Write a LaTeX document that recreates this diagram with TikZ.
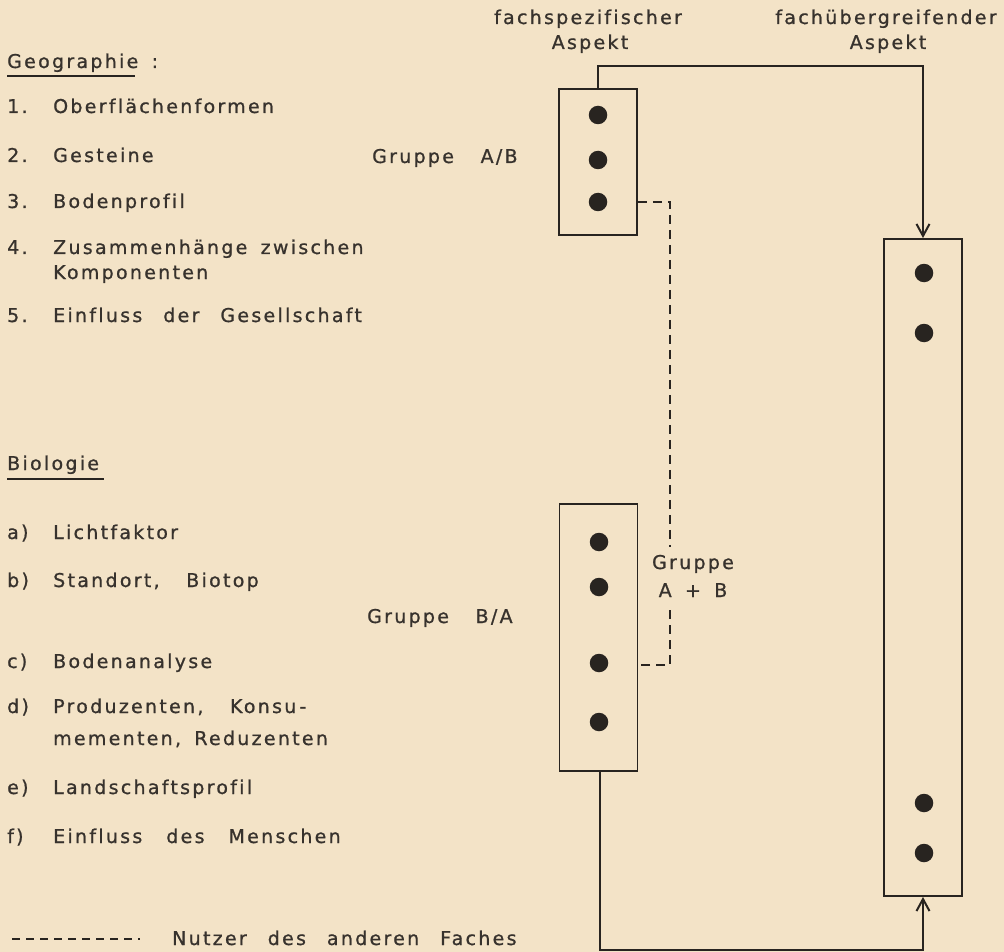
\documentclass[tikz,border=0pt]{standalone}
\usepackage{fontspec}
\usetikzlibrary{arrows.meta}
\newfontfamily\lett[LetterSpace=12,WordSpace=1.6,Ligatures=NoCommon,FakeBold=0.9]{DejaVu Sans}
\definecolor{paper}{RGB}{243,227,199}
\definecolor{ink}{RGB}{40,36,32}
\definecolor{txt}{RGB}{55,50,45}
\newcommand{\wsp}{\hspace{21pt}}
\tikzset{
  every node/.style={font=\lett\fontsize{19}{22}\selectfont, text=txt, inner sep=0pt},
  lbl/.style={anchor=base west},
  aspect/.style={rectangle, draw=ink, line width=1.9pt, minimum width=78pt, inner sep=0pt},
  dotmark/.style={circle, fill=ink, minimum size=18.5pt, inner sep=0pt},
  conn/.style={draw=ink, line width=1.9pt},
  dashconn/.style={draw=ink, line width=1.9pt, dash pattern=on 9pt off 6pt},
  tip/.style={-{Straight Barb[length=12pt,width=13pt,line width=2pt]}}
}
\begin{document}
\begin{tikzpicture}[x=1pt,y=-1pt]
\fill[paper] (0,0) rectangle (1004,952);
\useasboundingbox (0,0) rectangle (1004,952);

% headings
\node[anchor=base] (h1) at (588,24) {fachspezifischer};
\node[anchor=base] (h1b) at (590,49) {Aspekt};
\node[anchor=base] (h2) at (886,24) {fachübergreifender};
\node[anchor=base] (h2b) at (888,49) {Aspekt};

% Geographie list
\node[lbl] (geo) at (7,68) {Geographie :};
\draw[conn, line width=1.5pt] (7,76) -- (135,76);
\node[lbl] (n1) at (7,113) {1.};   \node[lbl] (g1) at (53,113) {Oberflächenformen};
\node[lbl] (n2) at (7,162) {2.};   \node[lbl] (g2) at (53,162) {Gesteine};
\node[lbl] (n3) at (7,208) {3.};   \node[lbl] (g3) at (53,208) {Bodenprofil};
\node[lbl] (n4) at (7,254) {4.};   \node[lbl] (g4) at (53,254) {Zusammenhänge zwischen};
\node[lbl] (g4b) at (53,279) {Komponenten};
\node[lbl] (n5) at (7,322) {5.};   \node[lbl] (g5) at (53,322) {Einfluss\wsp der\wsp Gesellschaft};

\node[lbl] (gab) at (372,163) {Gruppe \ A/B};

% Biologie list
\node[lbl] (bio) at (7,470) {Biologie};
\draw[conn, line width=1.5pt] (7,479) -- (104,479);
\node[lbl] (la) at (7,539) {a)};  \node[lbl] (ba) at (53,539) {Lichtfaktor};
\node[lbl] (lb) at (7,587) {b)};  \node[lbl] (bb) at (53,587) {Standort, \ Biotop};
\node[lbl] (gba) at (367,623) {Gruppe \ B/A};
\node[lbl] (lc) at (7,668) {c)};  \node[lbl] (bc) at (53,668) {Bodenanalyse};
\node[lbl] (ld) at (7,713) {d)};  \node[lbl] (bd) at (53,713) {Produzenten, \ Konsu\,-};
\node[lbl] (bdb) at (53,745) {mementen, Reduzenten};
\node[lbl] (le) at (7,794) {e)};  \node[lbl] (be) at (53,794) {Landschaftsprofil};
\node[lbl] (lf) at (7,843) {f)};  \node[lbl] (bf) at (53,843) {Einfluss\hspace{24pt}des\hspace{24pt}Menschen};

% legend
\coordinate (lg1) at (12,939);
\coordinate (lg2) at (140,939);
\draw[draw=ink, line width=1.5pt, dash pattern=on 8pt off 6pt] (lg1) -- (lg2);
\node[lbl] (lgt) at (172,945) {Nutzer\wsp des\wsp anderen\wsp Faches};

% boxes
\node[aspect, minimum height=146pt] (AB) at (598,162) {};
\node[aspect, minimum height=267pt] (BA) at (598.5,637.5) {};
\node[aspect, minimum height=657pt] (R) at (923,567.5) {};

% dots
\node[dotmark] (ab1) at (598,115) {};
\node[dotmark] (ab2) at (598,160) {};
\node[dotmark] (ab3) at (598,202) {};
\node[dotmark] (ba1) at (599,542) {};
\node[dotmark] (ba2) at (599,587) {};
\node[dotmark] (ba3) at (599,663) {};
\node[dotmark] (ba4) at (599,722) {};
\node[dotmark] (r1) at (924,273) {};
\node[dotmark] (r2) at (924,333) {};
\node[dotmark] (r3) at (924,803) {};
\node[dotmark] (r4) at (924,853) {};

% group label A+B
\node[anchor=base] (gpa) at (693,569) {Gruppe};
\node[anchor=base] (gpb) at (693,597) {A + B};

% connectors
\coordinate (tl) at (598,66);
\coordinate (tr) at (923,66);
\draw[conn, tip] (AB.north) -- (tl) -- (tr) -- (R.north);
\coordinate (bl) at (600,950);
\coordinate (br) at (923,950);
\draw[conn, tip] (BA.south -| bl) -- (bl) -- (br) -- (R.south);

\coordinate (d1) at (670,202);
\coordinate (d2) at (670,547);
\coordinate (d3) at (670,610);
\coordinate (d4) at (670,665);
\draw[dashconn] (AB.east |- ab3) -- (d1) -- (d2);
\draw[dashconn] (d3) -- (d4) -- (BA.east |- d4);
\end{tikzpicture}
\end{document}
